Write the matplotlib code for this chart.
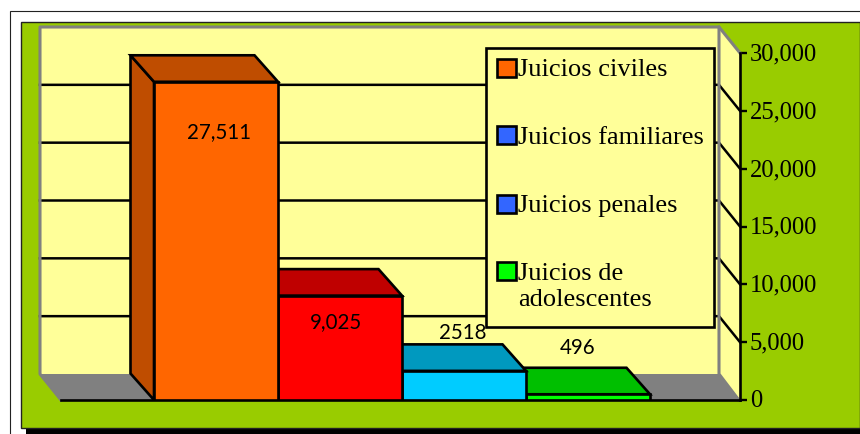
import matplotlib
matplotlib.use("Agg")
import matplotlib.pyplot as plt
from matplotlib.patches import Polygon, Rectangle
from matplotlib.transforms import ScaledTranslation

# data
categories = ["Juicios civiles", "Juicios familiares", "Juicios penales", "Juicios de\nadolescentes"]
values = [27511, 9025, 2518, 496]
value_labels = ["27,511", "9,025", "2518", "496"]
front_colors = ["#FF6600", "#FF0000", "#00CCFF", "#00FF00"]
dark_colors = ["#BF4D00", "#BF0000", "#0099BF", "#00BF00"]
legend_colors = ["#FF6600", "#3366FF", "#3366FF", "#00FF00"]
y_ticks = [0, 5000, 10000, 15000, 20000, 25000, 30000]
y_tick_labels = ["0", "5,000", "10,000", "15,000", "20,000", "25,000", "30,000"]

W, H = 860, 435
GREEN = "#99CC00"
YELLOW = "#FFFF99"
GRAY = "#808080"
SERIF = "Liberation Serif"


def px(x, y):
    # pixel position (from top left) to figure fraction
    return x / W, 1 - y / H


def fig_rect(x0, y0, x1, y1, **kw):
    fig.add_artist(Rectangle(px(x0, y1), (x1 - x0) / W, (y1 - y0) / H,
                             transform=fig.transFigure, **kw))


fig = plt.figure(figsize=(W / 100, H / 100), dpi=100, facecolor="white")

# outer frame, shadow and green panel
fig_rect(9.5, 11.5, 870, 445, fc="white", ec="#222222", lw=0.8, zorder=-5)
fig_rect(26, 300, 870, 440, fc="black", ec="none", zorder=-4)
fig_rect(20.5, 22.5, 859.5, 428.5, fc=GREEN, ec="#222222", lw=1.0, zorder=-3)

ax = fig.add_axes([61 / W, 34 / H, 679 / W, 347 / H], facecolor="none")
ax.set_ylim(0, 30000)
bar_px = 124.0
ax.set_xlim(-0.5 - 93 / bar_px, 3.5 + 90 / bar_px)
x0, x1 = ax.get_xlim()

# depth of the fake 3d box, in data units
wall_dx = 21 / bar_px
wall_dy = 26 * 30000 / 347
bar_dx = 23.5 / bar_px
bar_dy = 26.5 * 30000 / 347

# back wall, right side wall and floor
ax.add_patch(Polygon([(x0 - wall_dx, wall_dy), (x1 - wall_dx, wall_dy),
                      (x1 - wall_dx, 30000 + wall_dy), (x0 - wall_dx, 30000 + wall_dy)],
                     fc=YELLOW, ec="none", clip_on=False, zorder=1))
ax.add_patch(Polygon([(x1 - wall_dx, wall_dy), (x1, 0), (x1, 30000), (x1 - wall_dx, 30000 + wall_dy)],
                     fc=YELLOW, ec="none", clip_on=False, zorder=1))
ax.add_patch(Polygon([(x0, 0), (x1, 0), (x1 - wall_dx, wall_dy), (x0 - wall_dx, wall_dy)],
                     fc=GRAY, ec="none", clip_on=False, zorder=1))

# gridlines on the wall, running round to the front axis
for t in y_ticks[1:-1]:
    ax.plot([x0 - wall_dx, x1 - wall_dx, x1], [t + wall_dy, t + wall_dy, t],
            color="black", lw=1.8, clip_on=False, zorder=1.5, solid_joinstyle="miter")

# gray edges of the wall
ax.plot([x0, x0 - wall_dx, x0 - wall_dx, x1 - wall_dx, x1 - wall_dx, x1 - 0.01],
        [0, wall_dy, 30000 + wall_dy, 30000 + wall_dy, wall_dy, 0],
        color=GRAY, lw=2.2, clip_on=False, zorder=1.6)
ax.plot([x1 - wall_dx, x1], [30000 + wall_dy, 30000], color=GRAY, lw=2.2, clip_on=False, zorder=1.6)

# bars drawn right to left so nearer faces cover the others
for i in range(len(values) - 1, -1, -1):
    v = values[i]
    l, r = i - 0.5, i + 0.5
    z = 3 + (len(values) - i) * 0.1
    style = dict(ec="black", lw=1.9, joinstyle="miter", clip_on=False, zorder=z)
    ax.add_patch(Polygon([(l, 0), (l, v), (l - bar_dx, v + bar_dy), (l - bar_dx, bar_dy)],
                         fc=dark_colors[i], **style))
    ax.add_patch(Polygon([(l, v), (r, v), (r - bar_dx, v + bar_dy), (l - bar_dx, v + bar_dy)],
                         fc=dark_colors[i], **style))
    ax.bar(i, v, width=1.0, color=front_colors[i], edgecolor="black", linewidth=1.9, zorder=z)

# value labels, offsets in px from the middle of each bar top
label_offsets = [(3, -49), (-4, -25), (-1, 39), (-10, 47)]
for i, v in enumerate(values):
    off = label_offsets[i]
    ax.annotate(value_labels[i], (i, v), xytext=(off[0] * 0.72, off[1] * 0.72),
                textcoords="offset points", ha="center", va="center",
                family="Lato", fontsize=14.8, color="black", zorder=6, annotation_clip=False)

# axis on the right
for s in ["left", "top"]:
    ax.spines[s].set_visible(False)
ax.spines["right"].set_linewidth(1.9)
ax.spines["bottom"].set_linewidth(1.9)
ax.spines["right"].set_zorder(2.5)
ax.spines["bottom"].set_zorder(2.5)
ax.set_xticks([])
ax.yaxis.tick_right()
ax.set_yticks(y_ticks)
ax.set_yticklabels(y_tick_labels, family=SERIF, fontsize=17.7)
ax.tick_params(axis="y", length=5, width=1.7, pad=2, colors="black")
# tick labels sit a little above their ticks in the original
nudge = ScaledTranslation(0, 1.5 / 72, fig.dpi_scale_trans)
for lab in ax.get_yticklabels():
    lab.set_transform(lab.get_transform() + nudge)

# legend box
fig_rect(486, 49, 714, 328, fc=YELLOW, ec="black", lw=1.9, zorder=8)
swatch_y = [69, 136, 205, 271.5]
text_y = [73, 141, 209, 277]
for name, c, sy, ty in zip(categories, legend_colors, swatch_y, text_y):
    fig_rect(497, sy - 9, 516, sy + 9, fc=c, ec="black", lw=1.9, zorder=9)
    tx, tyf = px(518, ty - 14)
    fig.text(tx, tyf, name, family=SERIF, fontsize=19, color="black", va="top", ha="left",
             linespacing=1.25, zorder=9)

fig.savefig("out.png", dpi=100, facecolor="white")
